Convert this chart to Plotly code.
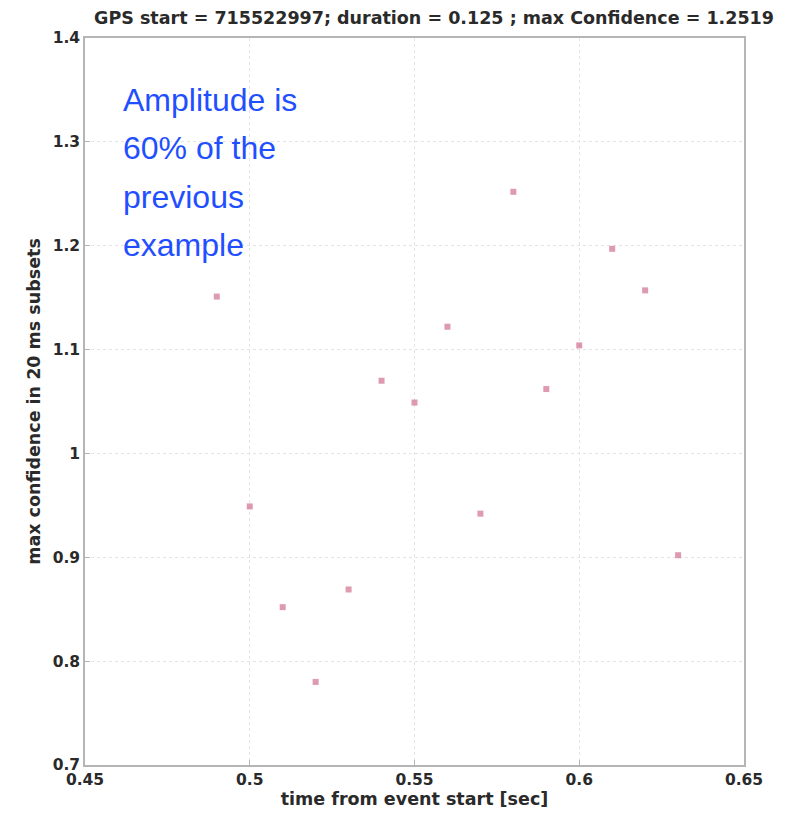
import plotly.graph_objects as go

time_sec = [0.49, 0.50, 0.51, 0.52, 0.53, 0.54, 0.55, 0.56, 0.57, 0.58, 0.59, 0.60, 0.61, 0.62, 0.63]
max_conf = [1.151, 0.949, 0.852, 0.780, 0.869, 1.070, 1.049, 1.122, 0.942, 1.2519, 1.062, 1.104, 1.197, 1.157, 0.902]

x_ticks = [0.45, 0.5, 0.55, 0.6, 0.65]
x_labels = ["0.45", "0.5", "0.55", "0.6", "0.65"]
y_ticks = [0.7, 0.8, 0.9, 1.0, 1.1, 1.2, 1.3, 1.4]
y_labels = ["0.7", "0.8", "0.9", "1", "1.1", "1.2", "1.3", "1.4"]

title_text = "GPS start = 715522997; duration = 0.125 ; max Confidence = 1.2519"
note_lines = ["Amplitude is", "60% of the", "previous", "example"]

FONT = "DejaVu Sans"
TXT = "#2a2a2a"

fig = go.Figure()
fig.add_trace(go.Scatter(
    x=time_sec, y=max_conf, mode="markers",
    marker=dict(symbol="square", size=6, color="rgba(205,100,130,0.65)",
                line=dict(width=0)),
    showlegend=False,
))

axis_common = dict(
    showline=True, mirror=True, linecolor="#b5b5b5", linewidth=1.5,
    showgrid=True, gridcolor="#e4e4e4", griddash="dot", gridwidth=1,
    zeroline=False, ticks="inside", ticklen=5, tickcolor="#b5b5b5",
    tickfont=dict(family=FONT, size=15.5, color=TXT, weight="bold"),
)

# plot area in page pixels (page has an 8 px body margin)
PL, PT, PW, PH = 85, 38, 659, 727

annotations = []
line_centers = [100, 148, 197, 245]
for txt, yc in zip(note_lines, line_centers):
    annotations.append(dict(
        text=txt, xref="paper", yref="paper",
        x=(121 - PL) / PW, y=(PT + PH - yc) / PH,
        xanchor="left", yanchor="middle", align="left", showarrow=False,
        font=dict(family="Liberation Sans, Arial", size=32, color="#1f4fff"),
    ))

fig.update_layout(
    width=790, height=813,
    margin=dict(l=PL - 8, r=790 - (PL - 8) - PW, t=PT - 8, b=813 - (PT - 8) - PH),
    paper_bgcolor="white", plot_bgcolor="white",
    title=dict(text=title_text, x=(434 - 8) / 790, xanchor="center", y=1 - 4 / 813, yanchor="top",
               font=dict(family=FONT, size=17.5, color=TXT, weight="bold")),
    xaxis=dict(range=[0.45, 0.65], tickvals=x_ticks, ticktext=x_labels,
               title=dict(text="time from event start [sec]", standoff=2,
                          font=dict(family=FONT, size=17.5, color=TXT, weight="bold")),
               **axis_common),
    yaxis=dict(range=[0.7, 1.4], tickvals=y_ticks, ticktext=y_labels,
               title=dict(text="max confidence in 20 ms subsets", standoff=8,
                          font=dict(family=FONT, size=17.5, color=TXT, weight="bold")),
               **axis_common),
    annotations=annotations,
)

fig.write_html("out.html")
